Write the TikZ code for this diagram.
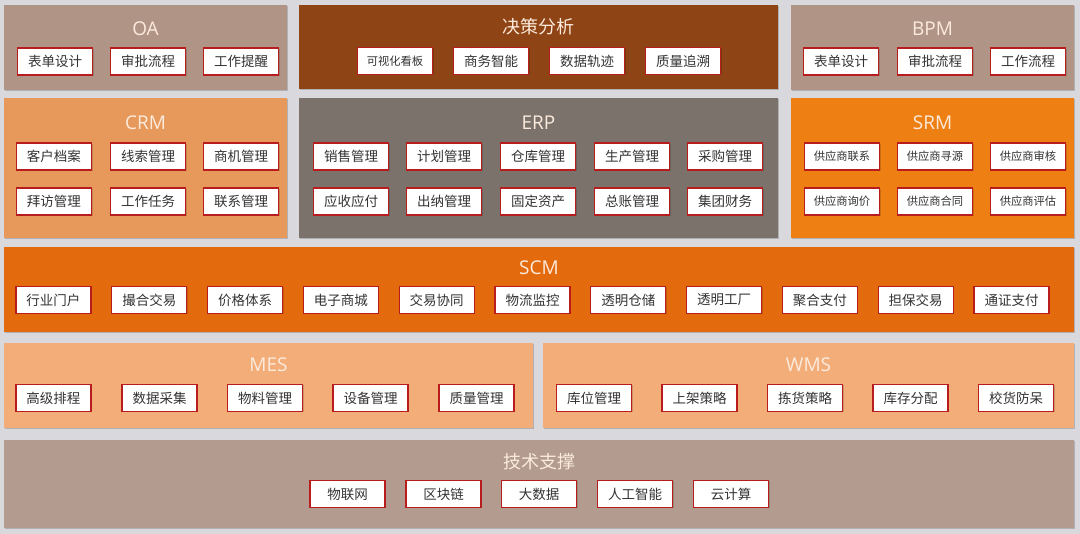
\documentclass[tikz,border=0pt]{standalone}
\usepackage{fontspec}
\newfontfamily\cjk{Noto Sans CJK SC}
\newfontfamily\lat{Open Sans}
\usetikzlibrary{shadows}
\definecolor{bgc}{HTML}{D9D9DD}
\definecolor{cOA}{HTML}{B09486}
\definecolor{cDS}{HTML}{8F4415}
\definecolor{cCRM}{HTML}{E7995B}
\definecolor{cERP}{HTML}{7B726B}
\definecolor{cSRM}{HTML}{EE7F12}
\definecolor{cSCM}{HTML}{E36B0E}
\definecolor{cMES}{HTML}{F2AD79}
\definecolor{cTEC}{HTML}{B39C8F}
\definecolor{itemred}{HTML}{B81C1C}
\definecolor{txtg}{HTML}{333333}
\definecolor{ttl}{HTML}{FCEBDD}
\tikzset{
  panel/.style={draw=none, inner sep=0pt, rectangle,
    drop shadow={shadow xshift=1.2pt, shadow yshift=-1.5pt, opacity=0.18, fill=black}},
  ptitle/.style={text=ttl, inner sep=0pt, font=\lat\fontsize{19}{19}\selectfont},
  ctitle/.style={text=ttl, inner sep=0pt, font=\cjk\fontsize{18}{18}\selectfont},
  item/.style={draw=itemred, line width=1.1pt, fill=white, inner sep=0pt,
    minimum width=75pt, minimum height=27pt, text=txtg,
    font=\cjk\fontsize{13.5}{13.5}\selectfont,
    drop shadow={shadow xshift=1pt, shadow yshift=-1pt, opacity=0.15, fill=black}},
  smallitem/.style={item, font=\cjk\fontsize{11.3}{11.3}\selectfont}
}
\begin{document}
\begin{tikzpicture}[x=1pt,y=-1pt]
\fill[bgc] (0,0) rectangle (1080,534);
\useasboundingbox (0,0) rectangle (1080,534);
% panels
\node[panel, fill=cOA, minimum width=283pt, minimum height=85pt] (oa) at (145.5,47.5) {};
\node[panel, fill=cDS, minimum width=479pt, minimum height=84pt] (ds) at (538.5,47) {};
\node[panel, fill=cOA, minimum width=283pt, minimum height=85pt] (bpm) at (932.5,47.5) {};
\node[panel, fill=cCRM, minimum width=283pt, minimum height=140pt] (crm) at (145.5,168) {};
\node[panel, fill=cERP, minimum width=479pt, minimum height=140pt] (erp) at (538.5,168) {};
\node[panel, fill=cSRM, minimum width=283pt, minimum height=140pt] (srm) at (932.5,168) {};
\node[panel, fill=cSCM, minimum width=1070pt, minimum height=85pt] (scm) at (539,289.5) {};
\node[panel, fill=cMES, minimum width=529pt, minimum height=85pt] (mes) at (268.5,385.5) {};
\node[panel, fill=cMES, minimum width=531pt, minimum height=85pt] (wms) at (808.5,385.5) {};
\node[panel, fill=cTEC, minimum width=1070pt, minimum height=88pt] (tec) at (539,484) {};
% titles
\node[ptitle] (oaT) at (145.5,29) {OA};
\node[ctitle] (dsT) at (538.5,27) {决策分析};
\node[ptitle] (bpmT) at (932.5,29) {BPM};
\node[ptitle] (crmT) at (145.5,123) {CRM};
\node[ptitle] (erpT) at (538.5,123) {ERP};
\node[ptitle] (srmT) at (932.5,123) {SRM};
\node[ptitle] (scmT) at (539,268) {SCM};
\node[ptitle] (mesT) at (268.5,365) {MES};
\node[ptitle] (wmsT) at (808.5,365) {WMS};
\node[ctitle] (tecT) at (539,462) {技术支撑};
% OA
\node[item] (oa1) at (55,61.5) {表单设计};
\node[item] (oa2) at (148,61.5) {审批流程};
\node[item] (oa3) at (241,61.5) {工作提醒};
% decision
\node[smallitem] (ds1) at (395,61) {可视化看板};
\node[item] (ds2) at (491,61) {商务智能};
\node[item] (ds3) at (587,61) {数据轨迹};
\node[item] (ds4) at (683,61) {质量追溯};
% BPM
\node[item] (bpm1) at (841,61.5) {表单设计};
\node[item] (bpm2) at (935,61.5) {审批流程};
\node[item] (bpm3) at (1028,61.5) {工作流程};
% CRM
\node[item] (crm1) at (54,156.5) {客户档案};
\node[item] (crm2) at (148,156.5) {线索管理};
\node[item] (crm3) at (241,156.5) {商机管理};
\node[item] (crm4) at (54,201.5) {拜访管理};
\node[item] (crm5) at (148,201.5) {工作任务};
\node[item] (crm6) at (241,201.5) {联系管理};
% ERP
\node[item] (erp1) at (351,156.5) {销售管理};
\node[item] (erp2) at (444,156.5) {计划管理};
\node[item] (erp3) at (538,156.5) {仓库管理};
\node[item] (erp4) at (632,156.5) {生产管理};
\node[item] (erp5) at (725,156.5) {采购管理};
\node[item] (erp6) at (351,201.5) {应收应付};
\node[item] (erp7) at (444,201.5) {出纳管理};
\node[item] (erp8) at (538,201.5) {固定资产};
\node[item] (erp9) at (632,201.5) {总账管理};
\node[item] (erp10) at (725,201.5) {集团财务};
% SRM
\node[smallitem] (srm1) at (842,156.5) {供应商联系};
\node[smallitem] (srm2) at (935,156.5) {供应商寻源};
\node[smallitem] (srm3) at (1028,156.5) {供应商审核};
\node[smallitem] (srm4) at (842,201.5) {供应商询价};
\node[smallitem] (srm5) at (935,201.5) {供应商合同};
\node[smallitem] (srm6) at (1028,201.5) {供应商评估};
% SCM
\node[item] (scm1) at (53.5,300) {行业门户};
\node[item] (scm2) at (149.3,300) {撮合交易};
\node[item] (scm3) at (245.1,300) {价格体系};
\node[item] (scm4) at (340.9,300) {电子商城};
\node[item] (scm5) at (436.7,300) {交易协同};
\node[item] (scm6) at (532.5,300) {物流监控};
\node[item] (scm7) at (628.3,300) {透明仓储};
\node[item] (scm8) at (724.1,300) {透明工厂};
\node[item] (scm9) at (819.9,300) {聚合支付};
\node[item] (scm10) at (915.7,300) {担保交易};
\node[item] (scm11) at (1011.5,300) {通证支付};
% MES
\node[item] (mes1) at (53.5,398) {高级排程};
\node[item] (mes2) at (159.5,398) {数据采集};
\node[item] (mes3) at (265,398) {物料管理};
\node[item] (mes4) at (370.5,398) {设备管理};
\node[item] (mes5) at (476.5,398) {质量管理};
% WMS
\node[item] (wms1) at (594,398) {库位管理};
\node[item] (wms2) at (699.5,398) {上架策略};
\node[item] (wms3) at (805,398) {拣货策略};
\node[item] (wms4) at (910.5,398) {库存分配};
\node[item] (wms5) at (1016,398) {校货防呆};
% tech
\node[item] (tec1) at (347.5,494) {物联网};
\node[item] (tec2) at (443.5,494) {区块链};
\node[item] (tec3) at (539,494) {大数据};
\node[item] (tec4) at (635,494) {人工智能};
\node[item] (tec5) at (731,494) {云计算};
\end{tikzpicture}
\end{document}
